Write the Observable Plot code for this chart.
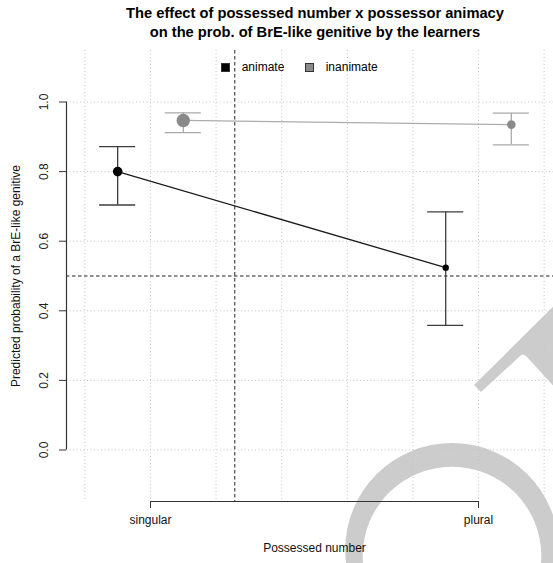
<!DOCTYPE html>
<html>
<head>
<meta charset="utf-8">
<script src="https://cdn.jsdelivr.net/npm/d3@7"></script>
<script src="https://cdn.jsdelivr.net/npm/@observablehq/plot@0.6"></script>
<style>
  html, body { margin: 0; padding: 0; background: #fff; }
  #chart { position: relative; width: 553px; height: 563px; overflow: hidden;
           font-family: "Liberation Sans", Arial, Helvetica, sans-serif; color: #000; }
  #chart svg { position: absolute; left: 0; top: 0; max-width: none !important; }
  .title { position: absolute; left: 0; top: 4px; width: 630px; text-align: center;
           font-weight: bold; font-size: 14.7px; line-height: 19.2px; }
  .key { position: absolute; top: 59.5px; font-size: 12px; line-height: 14px; white-space: nowrap; }
  .swatch { position: absolute; top: 63px; width: 7px; height: 7px; border: 1px solid #333; }
</style>
</head>
<body>
<div id="chart"></div>
<script>
// Possessed number (x categories) and possessor animacy (series)
const numbers = ["singular", "plural"];
const animacyLevels = ["animate", "inanimate"];

// Predicted probabilities with confidence limits, per possessed number
const animateFit   = [0.800, 0.524];
const animateLower = [0.704, 0.358];
const animateUpper = [0.872, 0.684];
const inanimateFit   = [0.947, 0.935];
const inanimateLower = [0.912, 0.877];
const inanimateUpper = [0.969, 0.968];

// Number of observations behind each estimate (drives dot area)
const animateN   = [230, 102];
const inanimateN = [450, 185];

// Axis ticks, grid positions and reference lines
const yTicks = [0, 0.2, 0.4, 0.6, 0.8, 1.0];
const xGrid = [0.8, 1.0, 1.2, 1.4, 1.6, 1.8, 2.0, 2.2];
const chanceLevel = 0.5;
const splitX = 1.257;

const xDomain = [0.744, 2.256];
const yDomain = [-0.148, 1.148];
const dodge = 0.1;
const capHalf = 0.055;

const font = "'Liberation Sans', Arial, Helvetica, sans-serif";

function series(fit, lower, upper, n, offset, animacy) {
  return numbers.map((number, i) => ({
    animacy, number, pos: i + 1 + offset,
    fit: fit[i], lower: lower[i], upper: upper[i], n: n[i]
  }));
}
const animateRows = series(animateFit, animateLower, animateUpper, animateN, -dodge, animacyLevels[0]);
const inanimateRows = series(inanimateFit, inanimateLower, inanimateUpper, inanimateN, dodge, animacyLevels[1]);

// Light grey watermark drawn underneath the chart
function watermark() {
  const ring = (cx, cy, r) => `M${cx - r},${cy}a${r},${r} 0 1,0 ${2 * r},0a${r},${r} 0 1,0 ${-2 * r},0Z`;
  const g = d3.create("svg:g").attr("fill", "#cccccc");
  g.append("path").attr("fill-rule", "evenodd")
    .attr("d", ring(452, 549.8, 106.8) + ring(452, 556, 89.3));
  g.append("path")
    .attr("d", "M474,385L481,392L519,357Q523,352 527,357L570,404L570,290Z");
  return g.node();
}

function errorBars(rows, stroke) {
  return [
    Plot.ruleX(rows, {x: "pos", y1: "lower", y2: "upper", stroke, strokeWidth: 1.3}),
    Plot.ruleY(rows, {y: "upper", x1: d => d.pos - capHalf, x2: d => d.pos + capHalf, stroke, strokeWidth: 1.3}),
    Plot.ruleY(rows, {y: "lower", x1: d => d.pos - capHalf, x2: d => d.pos + capHalf, stroke, strokeWidth: 1.3})
  ];
}

const grid = {stroke: "#c4c4c4", strokeOpacity: 1, strokeWidth: 1, strokeDasharray: "1,2.5"};
const dashed = {stroke: "#222", strokeWidth: 1, strokeDasharray: "3.5,2.5"};
const label = {fontSize: 12, fontFamily: font, fill: "#111"};

const plot = Plot.plot({
  width: 562,
  height: 563,
  marginLeft: 66,
  marginRight: 0,
  marginTop: 50,
  marginBottom: 62,
  x: {domain: xDomain},
  y: {domain: yDomain},
  r: {domain: [0, d3.max(inanimateN)], range: [0, 6.7]},
  style: {fontFamily: font, fontSize: "12px", background: "transparent", overflow: "visible", maxWidth: "none"},
  marks: [
    watermark,
    Plot.ruleX(xGrid, grid),
    Plot.ruleY(yTicks, grid),
    Plot.ruleX([splitX], dashed),
    Plot.ruleY([chanceLevel], dashed),
    ...errorBars(inanimateRows, "#a9a9a9"),
    ...errorBars(animateRows, "#3c3c3c"),
    Plot.line(inanimateRows, {x: "pos", y: "fit", stroke: "#acacac", strokeWidth: 1.3}),
    Plot.line(animateRows, {x: "pos", y: "fit", stroke: "#1a1a1a", strokeWidth: 1.3}),
    Plot.dot(inanimateRows, {x: "pos", y: "fit", r: "n", fill: "#8a8a8a", stroke: "none"}),
    Plot.dot(animateRows, {x: "pos", y: "fit", r: "n", fill: "#000", stroke: "none"}),
    // y axis: line from 0 to 1, outward ticks, rotated labels
    Plot.ruleX([xDomain[0]], {y1: yTicks[0], y2: yTicks[yTicks.length - 1], stroke: "#333", strokeWidth: 1.2}),
    Plot.axisY({ticks: yTicks, tickSize: 7, tickFormat: () => "", stroke: "#333", label: null}),
    Plot.text(yTicks, {y: d => d, text: d => d3.format(".1f")(d), frameAnchor: "left", textAnchor: "middle", rotate: -90, dx: -22.5, ...label, fill: "#222"}),
    Plot.text(["Predicted probability of a BrE-like genitive"], {text: d => d, frameAnchor: "left", textAnchor: "middle", rotate: -90, dx: -50, ...label}),
    // x axis: line between the two categories, ticks and labels
    Plot.ruleY([yDomain[0]], {x1: 1, x2: numbers.length, stroke: "#333", strokeWidth: 1.2}),
    Plot.axisX({ticks: numbers.map((d, i) => i + 1), tickSize: 7, tickFormat: () => "", stroke: "#333", label: null}),
    Plot.text(numbers, {x: (d, i) => i + 1, text: d => d, frameAnchor: "bottom", dy: 22, ...label}),
    Plot.text(["Possessed number"], {text: d => d, frameAnchor: "bottom", dy: 50, ...label})
  ]
});

const chart = document.getElementById("chart");
chart.appendChild(plot);

const title = document.createElement("div");
title.className = "title";
title.innerHTML = "The effect of possessed number x possessor animacy<br>on the prob. of BrE-like genitive by the learners";
chart.appendChild(title);

// Legend for possessor animacy
const keyColors = ["#000", "#8a8a8a"];
const keyLeft = [221, 305];
animacyLevels.forEach((name, i) => {
  const sw = document.createElement("div");
  sw.className = "swatch";
  sw.style.left = keyLeft[i] + "px";
  sw.style.background = keyColors[i];
  chart.appendChild(sw);
  const t = document.createElement("div");
  t.className = "key";
  t.style.left = (keyLeft[i] + 20.7) + "px";
  t.textContent = name;
  chart.appendChild(t);
});
</script>
</body>
</html>
